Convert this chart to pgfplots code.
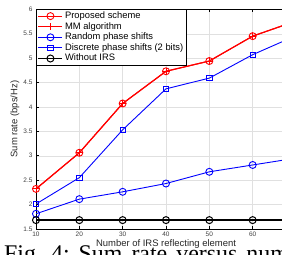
\documentclass[border=0pt]{standalone}
\usepackage{pgfplots}
\pgfplotsset{compat=1.18}
\usepackage{fontspec}
\setmainfont{Liberation Sans}
\newfontfamily\capfont{Liberation Serif}

\pgfplotstableread{
x  prop  mm   rnd   disc  noirs
10 2.32 2.32 1.81 2.01 1.68
20 3.06 3.06 2.11 2.55 1.68
30 4.07 4.07 2.26 3.53 1.68
40 4.73 4.73 2.43 4.37 1.68
50 4.94 4.94 2.67 4.59 1.68
60 5.45 5.45 2.81 5.07 1.68
70 5.76 5.76 2.95 5.46 1.68
}\datatable

\begin{document}
\begin{tikzpicture}
\useasboundingbox (-36bp,-26.1bp) rectangle (246bp,228.9bp);
\begin{axis}[
  at={(0,0)}, anchor=south west, scale only axis,
  width=260bp, height=219.6bp,
  xmin=10, xmax=70, ymin=1.5, ymax=6,
  xtick={10,20,...,70}, ytick={1.5,2,...,6},
  grid=major, grid style={black!12, line width=0.4pt},
  tick align=inside, major tick length=2.5bp,
  axis line style={line width=0.6pt},
  every tick/.style={black, line width=0.5pt},
  tick label style={font=\fontsize{6.5}{7}\selectfont, text=black!75},
  /pgf/number format/assume math mode=true,
  xlabel={Number of IRS reflecting element},
  xlabel style={at={(axis description cs:0.5,0)}, anchor=base, yshift=-17.5bp, font=\fontsize{9.5}{11}\selectfont, text=black!85},
  ylabel={Sum rate (bps/Hz)},
  ylabel style={at={(axis description cs:0,0.5)}, anchor=center, yshift=21bp, font=\fontsize{9.5}{11}\selectfont, text=black!85},
  legend style={at={(rel axis cs:0,1)}, anchor=north west, draw=black, line width=0.6pt,
    font=\fontsize{9.4}{10.6}\selectfont, inner xsep=1.5bp, inner ysep=1.2bp,
    nodes={inner ysep=0.7bp, text height=7bp, text depth=2.2bp}, row sep=0pt},
  legend cell align=left,
  legend image code/.code={\draw[mark repeat=2,mark phase=2] plot coordinates {(0bp,0bp) (12bp,0bp) (24bp,0bp)};},
]
\addplot[red, line width=1.1pt, mark=o, mark size=3.5bp, mark options={line width=0.9pt}] table[x=x,y=prop] {\datatable};
\addlegendentry{Proposed scheme}
\addplot[red, line width=1.1pt, mark=+, mark size=3.5bp, mark options={line width=0.9pt}] table[x=x,y=mm] {\datatable};
\addlegendentry{MM algorithm}
\addplot[blue, line width=0.9pt, mark=o, mark size=3.5bp, mark options={line width=0.9pt}] table[x=x,y=rnd] {\datatable};
\addlegendentry{Random phase shifts}
\addplot[blue, line width=0.9pt, mark=square, mark size=2.7bp, mark options={line width=0.9pt}] table[x=x,y=disc] {\datatable};
\addlegendentry{Discrete phase shifts (2 bits)}
\addplot[black, line width=1.3pt, mark=o, mark size=3.5bp, mark options={line width=1pt}] table[x=x,y=noirs] {\datatable};
\addlegendentry{Without IRS}
\end{axis}
\node[anchor=base west, inner sep=0pt, font=\capfont\fontsize{24}{29}\selectfont] at (-32bp,-32.1bp) {\spaceskip=9bp\xspaceskip=9bp Fig. 4: Sum rate versus number of IRS};
\end{tikzpicture}
\end{document}
